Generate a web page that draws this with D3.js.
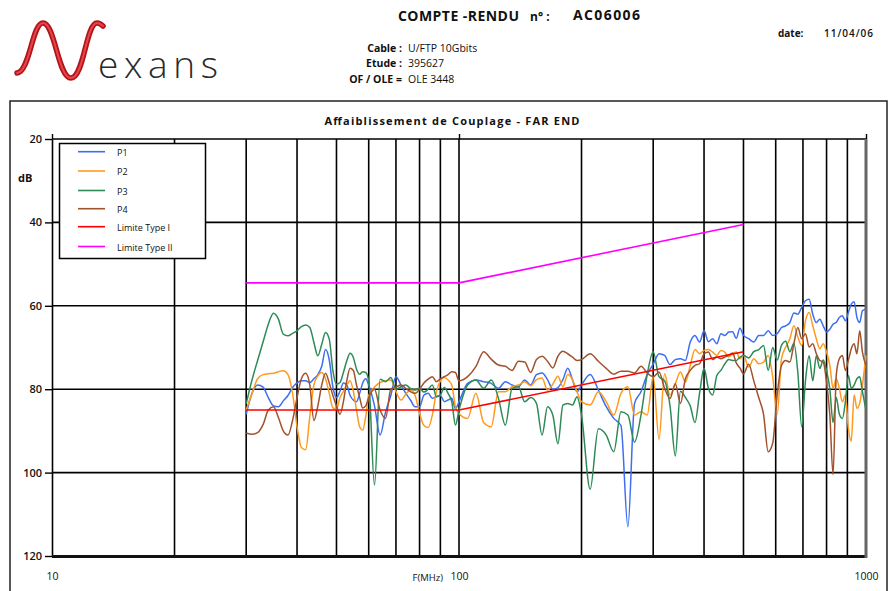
<!DOCTYPE html>
<html>
<head>
<meta charset="utf-8">
<script src="https://cdn.jsdelivr.net/npm/d3@7"></script>
<style>
  html, body { margin: 0; padding: 0; background: #fff; }
  svg { display: block; }
  text { font-family: "Open Sans", "Liberation Sans", sans-serif; fill: #111; }
</style>
</head>
<body>
<svg id="chart" width="892" height="591"></svg>
<script>
// Measurement frequencies (MHz)
const freq = [
  30,31,32,33,34,35,36,37,38,39,40,41,42,43,44,45,46,47,48,49,50,51,52,53,54,55,56,57,58,59,60,
  62,64,66,68,70,72,74,76,78,80,82,84,86,88,90,92,94,96,98,100,
  105,110,115,120,125,130,135,140,145,150,155,160,165,170,175,180,185,190,195,200,
  210,220,230,240,250,260,270,280,290,300,310,320,330,340,350,360,370,380,390,400,
  410,420,430,440,450,460,470,480,490,500,
  515,530,545,560,575,590,605,620,635,650,665,680,695,710,725,740,755,770,785,800,
  815,830,845,860,875,890,905,920,935,950,965,980,1000
];

// Far-end coupling attenuation per pair (dB)
const p1 = [
  86,81,79,79.5,82,84,84.2,82.8,81.5,79.6,78.5,78,78,78.4,77.5,76.5,74.5,70.5,73,79.5,82,80.5,78.5,79,81.5,82.6,83,81,78.5,77.5,79,
  84,91,85.5,81.5,77,79,81,82.6,84.2,84.2,81.4,81,82.2,81.8,81.5,83,82.6,82.2,84.7,83,
  78.6,77.8,78.2,78.6,79.8,78.2,79,79.4,77.8,79,76.5,76.1,77.7,80,79.6,77.7,75,77.7,80.6,79,
  76.5,80.2,84.2,87,88.7,113,83.4,80.6,76.5,74,71.5,71.9,74.1,72.9,72.7,73.1,68.7,67.1,68.7,66,
  68.6,67.9,69.1,66.7,67.1,66.3,66.2,67.8,65.4,67.1,
  67.9,68.7,67.1,67.1,66,67.1,66.7,65.2,64.8,64,61.7,62,60.4,58.8,58.4,62,64,63.2,64.8,66.3,
  65.6,64.4,64,62.8,62.4,63.6,61.6,59.6,59,62.8,64,61.2,60.8
];
const p2 = [
  85,81,77.5,76.5,76.3,76.2,75.8,75.6,76.5,81,89,94,94.5,86.5,79,76.8,76,77.5,81,84.5,84.8,82,80.5,79,78,80.5,85,89,89.8,86.5,81.5,
  79.5,78.4,78,77.8,80.6,82.6,81.2,80.2,81.5,85.8,88.7,89.2,86.2,80.6,78,77.2,77.8,79,84.2,85.8,
  87,81,88,89,80.6,80.6,79.4,79,78.2,79.2,77.7,77.3,80.2,78.8,76.9,79.4,76.5,77.7,80.6,83,
  83.8,80.6,83,86.2,81,79.4,86.2,85.4,86.2,76.9,92,76.3,81.4,78.7,75.9,78.3,74.3,70.5,71.5,70.7,
  70.5,71.1,71.9,70.7,71.1,72.3,71.5,71.1,72.7,71.9,
  74.7,72.7,73.9,73.5,71.9,77.1,86,72.7,69.9,67.9,64.8,67.5,69.5,63.6,61.6,64.8,67.9,70.3,69.1,71.1,
  74.3,79.8,77.5,79.8,83,81.4,89.4,92.5,81.4,84.6,83.4,79,71.9
];
const p3 = [
  83.5,77.8,73.1,68.7,64.4,61.8,63.2,66.8,67.2,66.6,66,65,64.6,65.2,68.8,72,69.2,66.4,68,75.6,78.8,78.4,76,73.2,71.4,72.4,75.2,76.4,75.8,76,78,
  103,77.6,78.2,77.2,80,79.4,79,79.8,80.2,79.8,80.7,80,79,81.8,81.4,79.6,81,83,88.6,85,
  79,77.8,79.8,77.8,82.2,88.6,79.8,79.4,83,82,83.4,91,84.2,86.2,93.1,83.8,83.4,83.8,81.8,86.2,
  104,89.5,91,95,85.4,86.2,92.7,86.2,76.5,71,77,78,84,96,80.5,82,84,88,81,75,
  79.8,81.4,76.7,75.5,73.9,72.9,73.1,73.1,72.3,71.9,
  72.5,71,70.5,69.5,75.5,70,73,69.5,68.5,71,69,76,89,78,72,78,72,75,73,75.5,
  80,88,82,86,87,83,76.7,79.8,79,77.5,77,80.6,85
];
const p4 = [
  90.5,90.8,90.4,88.5,85,84.2,86.8,90,91,87.5,82,77.5,76.2,79,87.5,84,79,76.2,78.5,81.5,84,86,83,78,75,75.5,79,82,84.5,84,82,
  80,85,87,80,79.5,79,79.8,80.6,81,80,78.5,77.6,77,78.2,77.5,77,76.5,75.8,76,78,
  77,74.6,71,72.8,74.2,74.5,75.5,73.3,73.5,76,72.9,72.1,73.3,74.9,72.1,70.9,71.5,72.3,73.1,72.9,
  71.5,73.3,75,76.4,75.7,75.7,76.1,74.5,76.1,77,75.9,79.8,82.2,78.7,83.4,77.5,75.5,74.3,73.9,71.5,
  71.1,72.9,72.3,72.7,72.3,71.9,71.3,73.7,74.9,76.3,
  74,78,82,86,95,92.9,81.4,74.3,73.1,73.5,69.1,65.2,67.9,66.7,69.9,69.1,71.5,73.1,73.5,78.3,
  86.2,100.5,76.7,72.7,71.9,75.5,73.1,70.3,69.1,71.5,66,71.1,74.3
];

// Limit templates: breakpoints in MHz and dB
const limitFreq = [30, 100, 500];
const limitType1 = [85, 85, 71];
const limitType2 = [54.5, 54.5, 40.5];

const seriesNames = ["P1", "P2", "P3", "P4", "Limite Type I", "Limite Type II"];
const seriesColors = ["#3d6df2", "#ff9a1f", "#2e8b57", "#a0522d", "#ff0000", "#ff00ff"];

const yTicks = [20, 40, 60, 80, 100, 120];
const xLabelTicks = [10, 100, 1000];
const xGrid = [20,30,40,50,60,70,80,90,100,200,300,400,500,600,700,800,900];

const svg = d3.select("#chart");

// ---------- header ----------
const logo = svg.append("g");
const swoosh = "M17,73 C30,72 32,23 43,23 C55,23 58,78 71,78 C84,78 86,23 97,23 C99,23 101,24 103,26";
logo.append("path").attr("d", swoosh).attr("fill", "none")
  .attr("stroke", "#b3141c").attr("stroke-width", 5.5).attr("stroke-linecap", "round");
logo.append("path").attr("d", swoosh).attr("fill", "none")
  .attr("stroke", "#e8454a").attr("stroke-width", 2).attr("stroke-linecap", "round");
logo.append("text").attr("x", 98).attr("y", 78)
  .attr("textLength", 120).attr("lengthAdjust", "spacing")
  .style("font-size", "37px").style("font-weight", 300).style("fill", "#2a2a2a")
  .text("exans");

const head = svg.append("g").style("font-weight", 700);
head.append("text").attr("x", 398).attr("y", 21).attr("textLength", 121)
  .style("font-size", "14px").text("COMPTE -RENDU");
head.append("text").attr("x", 530).attr("y", 21).style("font-size", "12px").text("n° :");
head.append("text").attr("x", 573).attr("y", 20).attr("textLength", 67)
  .style("font-size", "14px").text("AC06006");
head.append("text").attr("x", 778).attr("y", 37).style("font-size", "10px").text("date:");
head.append("text").attr("x", 824).attr("y", 37).attr("textLength", 49)
  .style("font-size", "10px").style("font-weight", 600).text("11/04/06");

const info = [["Cable :", "U/FTP 10Gbits", 52], ["Etude :", "395627", 67], ["OF / OLE =", "OLE 3448", 83]];
info.forEach(([lab, val, yy]) => {
  svg.append("text").attr("x", 402).attr("y", yy).attr("text-anchor", "end")
    .style("font-size", "10.5px").style("font-weight", 700).text(lab);
  svg.append("text").attr("x", 408).attr("y", yy)
    .style("font-size", "10.5px").style("font-weight", 400).text(val);
});

// outer frame
svg.append("rect").attr("x", 10).attr("y", 101).attr("width", 877).attr("height", 600)
  .attr("fill", "none").attr("stroke", "#222").attr("stroke-width", 1.5);

svg.append("text").attr("x", 452).attr("y", 125).attr("text-anchor", "middle")
  .attr("textLength", 255).style("font-size", "11px").style("font-weight", 700)
  .text("Affaiblissement de Couplage - FAR END");

// ---------- plot ----------
const x = d3.scaleLog().domain([10, 1000]).range([52, 866]);
const y = d3.scaleLinear().domain([20, 120]).range([139, 556]);

const grid = svg.append("g").attr("stroke", "#000").attr("stroke-width", 1.6);
grid.selectAll("line.v").data(xGrid).join("line").attr("class", "v")
  .attr("x1", d => x(d)).attr("x2", d => x(d)).attr("y1", y(20)).attr("y2", y(120));
grid.selectAll("line.h").data(yTicks).join("line").attr("class", "h")
  .attr("x1", x(10)).attr("x2", x(1000)).attr("y1", d => y(d)).attr("y2", d => y(d));

// left axis
const yAxis = svg.append("g").attr("transform", `translate(${x(10)},0)`)
  .call(d3.axisLeft(y).tickValues(yTicks).tickSizeInner(7).tickSizeOuter(0).tickPadding(3));
yAxis.select(".domain").attr("stroke", "#000").attr("stroke-width", 1.6);
yAxis.selectAll(".tick line").attr("stroke", "#000").attr("stroke-width", 1.4);
yAxis.selectAll("text").style("font-size", "11px").style("font-weight", 600)
  .style("font-family", "'Open Sans', sans-serif");

// small ticks above the frame top
const topAxis = svg.append("g").attr("transform", `translate(0,${y(20)})`)
  .call(d3.axisTop(x).tickValues(xLabelTicks).tickSize(5).tickFormat(""));
topAxis.select(".domain").remove();
topAxis.selectAll(".tick line").attr("stroke", "#000").attr("stroke-width", 1.4);

// bottom axis labels
const xAxis = svg.append("g").attr("transform", `translate(0,${y(120)})`)
  .call(d3.axisBottom(x).tickValues(xLabelTicks).tickSize(0).tickPadding(17).tickFormat(d3.format("d")));
xAxis.select(".domain").remove();
xAxis.selectAll("text").style("font-size", "10.5px").style("font-family", "'Open Sans', sans-serif");

svg.append("text").attr("x", 443).attr("y", 581).attr("text-anchor", "end")
  .style("font-size", "9.5px").text("F(MHz)");
svg.append("text").attr("x", 18).attr("y", 182)
  .style("font-size", "11px").style("font-weight", 700).text("dB");

// heavy bottom and right edges
svg.append("line").attr("x1", x(10)).attr("x2", x(1000) + 1).attr("y1", y(120) + 0.5).attr("y2", y(120) + 0.5)
  .attr("stroke", "#111").attr("stroke-width", 3);
svg.append("line").attr("x1", x(1000)).attr("x2", x(1000)).attr("y1", y(20)).attr("y2", y(120) + 2)
  .attr("stroke", "#666").attr("stroke-width", 3);

// data curves
const plot = svg.append("g");
const line = d3.line().x(d => x(d[0])).y(d => y(d[1])).curve(d3.curveMonotoneX);
[p1, p2, p3, p4].forEach((vals, i) => {
  plot.append("path").datum(freq.map((f, k) => [f, vals[k]]))
    .attr("fill", "none").attr("stroke", seriesColors[i]).attr("stroke-width", 1.5)
    .attr("stroke-linejoin", "round").attr("d", line);
});
const lim = d3.line().x(d => x(d[0])).y(d => y(d[1]));
[limitType1, limitType2].forEach((vals, i) => {
  plot.append("path").datum(limitFreq.map((f, k) => [f, vals[k]]))
    .attr("fill", "none").attr("stroke", seriesColors[4 + i]).attr("stroke-width", 1.6)
    .attr("d", lim);
});

// legend
const legend = svg.append("g");
legend.append("rect").attr("x", 59.5).attr("y", 143.5).attr("width", 146).attr("height", 115)
  .attr("fill", "#fff").attr("stroke", "#000").attr("stroke-width", 1.5);
const rowY = [151.7, 171, 190.5, 208.7, 226.7, 246.5];
seriesNames.forEach((name, i) => {
  legend.append("line").attr("x1", 78).attr("x2", 105).attr("y1", rowY[i]).attr("y2", rowY[i])
    .attr("stroke", seriesColors[i]).attr("stroke-width", 1.6);
  legend.append("text").attr("x", 117).attr("y", rowY[i] + 4)
    .style("font-size", "9px").text(name);
});
</script>
</body>
</html>
